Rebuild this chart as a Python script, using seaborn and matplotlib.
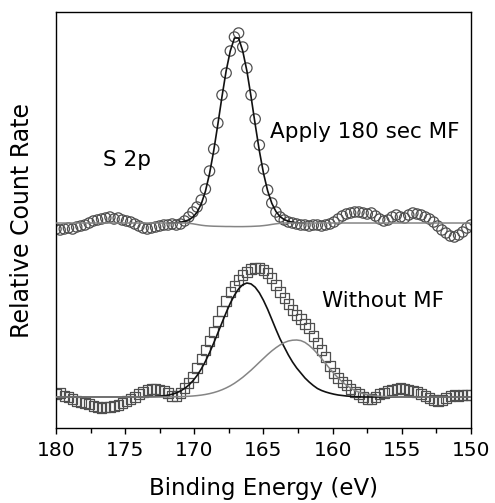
import numpy as np
import matplotlib
matplotlib.use("Agg")
import matplotlib.pyplot as plt
from matplotlib.ticker import MultipleLocator
import seaborn as sns

#======================================================================
# --- 1. DATA (S 2p spectra, a.u.) ---
#======================================================================
# binding energy grid of the scans, 180 -> 150 eV in 0.3 eV steps
energy = np.linspace(180, 150, 101)

# vertical offsets used to stack the two spectra
OFFSET_MF = 205
OFFSET_NO_MF = 31

# "Apply 180 sec MF" : measured counts (circles)
mf_counts = [
    -6, -7, -6, -5, -6, -4, -3, -2, 0, 2,
    3, 4, 5, 6, 4, 5, 3, 2, 1, -1,
    -3, -5, -6, -5, -4, -3, -2, -2, -1, -2,
    -1, 2, 6, 11, 16, 23, 34, 52, 74, 100,
    128, 150, 172, 186, 190, 176, 155, 128, 104, 78,
    54, 33, 20, 11, 6, 3, 1, 0, -1, -2,
    -2, -3, -2, -2, -3, -2, -1, 1, 4, 7,
    9, 10, 11, 11, 10, 9, 10, 7, 4, 2,
    3, 6, 8, 6, 5, 8, 10, 9, 8, 6,
    4, 1, -3, -7, -10, -13, -14, -12, -9, -5,
    -2,
]
# gray background line under the MF spectrum
mf_background = [0.0] * 31 + [
    0.0, -0.3, -0.8, -1.5, -2.2, -2.7, -3.0, -3.2, -3.3, -3.4,
    -3.5, -3.5, -3.6, -3.6, -3.6, -3.5, -3.4, -3.2, -3.0, -2.6,
    -2.1, -1.4, -0.8, -0.3, 0.0,
] + [0.0] * 45
# black fitted peak, only drawn from 171.9 to 162.0 eV
FIT_START, FIT_STOP = 27, 61
mf_fit = [
    0.0, 0.1, 0.3, 0.8, 1.7, 3.1, 5.9, 10.8, 19.0, 31.6,
    49.4, 72.1, 98.6, 126.4, 152.1, 172.1, 185.0, 185.0, 172.0, 152.1,
    126.4, 98.7, 72.3, 49.8, 32.2, 19.8, 11.5, 6.4, 3.4, 1.7,
    0.8, 0.3, 0.1, 0.0,
]

# "Without MF" : measured counts (squares)
nomf_counts = [
    3, 4, 1, 0, -2, -4, -5, -6, -7, -9,
    -10, -11, -10, -10, -9, -8, -6, -4, -2, 0,
    3, 5, 7, 8, 8, 7, 6, 4, 1, 1,
    4, 9, 14, 20, 29, 38, 47, 56, 65, 76,
    86, 96, 105, 111, 117, 122, 125, 128, 129, 129,
    127, 124, 119, 112, 105, 99, 93, 87, 82, 78,
    73, 69, 61, 54, 47, 40, 31, 24, 19, 15,
    12, 8, 5, 3, 0, -2, -2, 0, 3, 4,
    6, 7, 8, 9, 8, 7, 6, 5, 3, 1,
    -1, -3, -4, -3, -1, 1, 2, 1, 2, 2,
    2,
]
# component at ~166 eV (black)
nomf_comp1 = [0.0] * 22 + [
    0.15, 0.3, 0.45, 0.74, 1.17, 1.83, 2.78, 4.14,
    6.03, 8.58, 11.9, 16.2, 21.5, 28.0, 35.6, 44.3, 53.9, 64.0,
    74.3, 84.4, 93.8, 101.8, 108.1, 112.3, 114.0, 113.1, 109.8, 104.2,
    96.6, 87.7, 77.7, 67.6, 58.0, 50.0, 42.0, 35.0, 29.0, 24.0,
    19.0, 15.0, 11.5, 8.5, 6.5, 5.0, 3.8, 2.8, 2.0, 1.5,
    1.0, 0.7, 0.4, 0.2,
] + [0.0] * 27
# component at ~162.6 eV (gray)
nomf_comp2 = [0.0] * 26 + [
    0.07, 0.1, 0.15, 0.25,
    0.36, 0.52, 0.73, 1.02, 1.40, 1.90, 2.55, 3.38, 4.41, 5.68,
    7.23, 9.07, 11.2, 13.7, 16.6, 19.7, 23.2, 26.8, 30.7, 34.7,
    38.6, 42.5, 46.1, 49.3, 52.1, 54.4, 56.0, 56.8, 57.0, 56.4,
    54.6, 51.6, 47.8, 43.3, 38.4, 33.3, 28.2, 23.4, 19.0, 15.1,
    11.7, 8.9, 6.6, 4.8, 3.4, 2.4, 1.6, 1.1, 0.7, 0.45,
    0.28, 0.17, 0.1,
] + [0.0] * 18

#======================================================================
# --- 2. FIGURE ---
#======================================================================
sns.set_style("ticks")
plt.rcParams["font.family"] = ["DejaVu Sans"]
plt.rcParams["text.color"] = "black"
plt.rcParams["axes.labelcolor"] = "black"
plt.rcParams["xtick.color"] = "black"

fig = plt.figure(figsize=(4.95, 5.03), dpi=100)
ax = fig.add_axes([0.1131, 0.1491, 0.8384, 0.8270])

MARK = "#4f4f4f"
GRAY = "#858585"
BLACK = "#111111"

# measured points
sns.scatterplot(x=energy, y=np.array(mf_counts) + OFFSET_MF, marker="o", s=55,
                facecolors="none", edgecolors=MARK, linewidth=0.9, ax=ax, zorder=2)
sns.scatterplot(x=energy, y=np.array(nomf_counts) + OFFSET_NO_MF, marker="s", s=46,
                facecolors="none", edgecolors=MARK, linewidth=0.9, ax=ax, zorder=2)

# fitted curves
sns.lineplot(x=energy[FIT_START:FIT_STOP], y=np.array(mf_fit) + OFFSET_MF,
             color=BLACK, linewidth=1.2, ax=ax, zorder=3)
sns.lineplot(x=energy, y=np.array(mf_background) + OFFSET_MF,
             color=GRAY, linewidth=1.1, ax=ax, zorder=4)
sns.lineplot(x=energy, y=np.array(nomf_comp1) + OFFSET_NO_MF,
             color=BLACK, linewidth=1.2, ax=ax, zorder=3)
sns.lineplot(x=energy, y=np.array(nomf_comp2) + OFFSET_NO_MF,
             color=GRAY, linewidth=1.1, ax=ax, zorder=4)

ax.set_xlim(180, 150)
ax.set_ylim(0, 416)
ax.set_yticks([])
ax.xaxis.set_major_locator(MultipleLocator(5))
ax.xaxis.set_minor_locator(MultipleLocator(2.5))
ax.tick_params(axis="x", which="major", direction="out", length=4.5, width=1,
               labelsize=14.5, pad=5, color="black")
ax.tick_params(axis="x", which="minor", direction="out", length=3.5, width=1,
               color="black")
for side in ax.spines.values():
    side.set_color("black")
    side.set_linewidth(1.0)

ax.set_xlabel("Binding Energy (eV)", fontsize=16.5, labelpad=12)
ax.set_ylabel("Relative Count Rate", fontsize=17, labelpad=16)

ax.text(176.6, 262, "S 2p", fontsize=15.5, ha="left", va="baseline")
ax.text(164.5, 290, "Apply 180 sec MF", fontsize=15.5, ha="left", va="baseline")
ax.text(160.8, 121, "Without MF", fontsize=15.5, ha="left", va="baseline")

#======================================================================
# --- 3. EXPORT ---
#======================================================================
fig.savefig("out.png", dpi=100)
plt.close(fig)
